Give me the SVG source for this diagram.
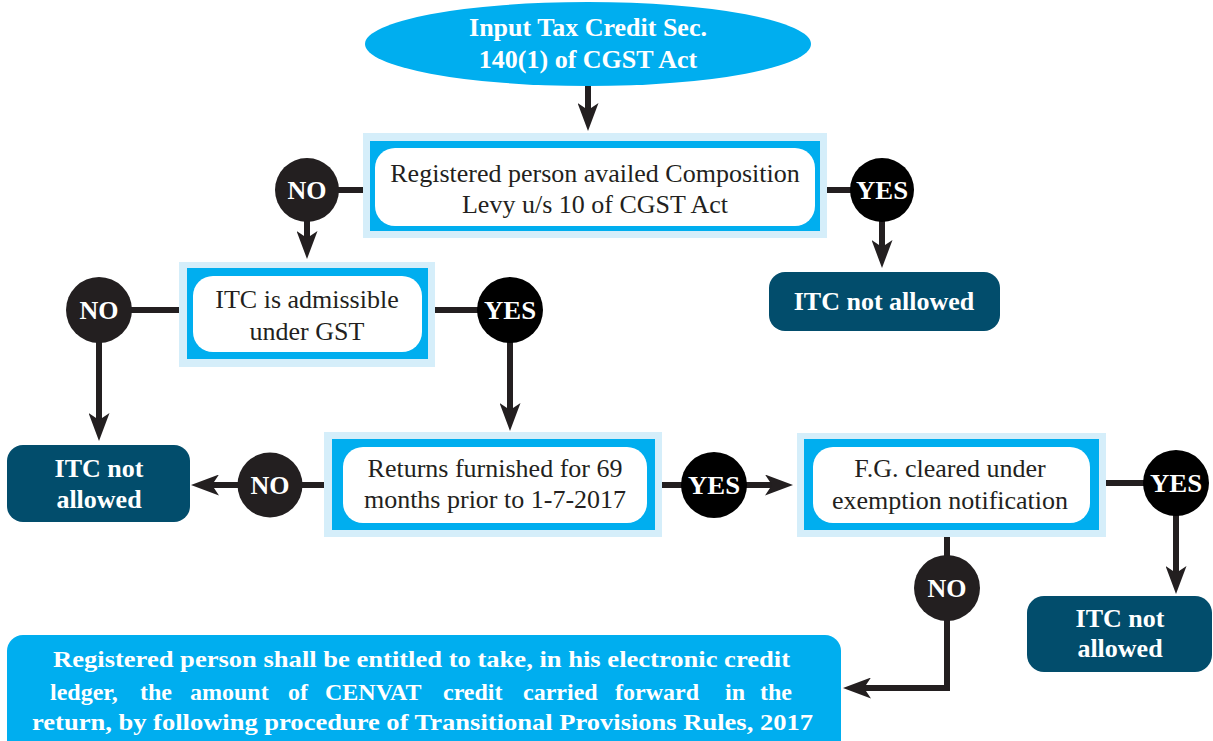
<svg xmlns="http://www.w3.org/2000/svg" width="1213" height="741" viewBox="0 0 1213 741">
<style>
.frame{fill:#d5eefa}
.blue{fill:#00aeef}
.white{fill:#ffffff}
.dark{fill:#024d6c}
.circ{fill:#231f20}
.circy{fill:#000000}
.t{font-family:"Liberation Serif","Times New Roman",serif;font-size:26px;fill:#231f20;text-anchor:middle}
.tb{font-family:"Liberation Serif","Times New Roman",serif;font-size:26px;font-weight:bold;fill:#ffffff;text-anchor:middle}
.tl{font-family:"Liberation Serif","Times New Roman",serif;font-size:24px;font-weight:bold;fill:#ffffff}
.ln{stroke:#231f20;stroke-width:6;fill:none}
.ar{stroke:#231f20;stroke-width:6;fill:none;marker-end:url(#ah)}
</style>
<defs>
<marker id="ah" viewBox="0 0 28 21" refX="7" refY="10.5" markerWidth="28" markerHeight="21" markerUnits="userSpaceOnUse" orient="auto">
<path d="M0,0 L28,10.5 L0,21 L7,10.5 Z" fill="#231f20"/>
</marker>
</defs>
<rect width="1213" height="741" fill="#ffffff"/>
<g id="connectors">
<line class="ar" x1="588" y1="86" x2="588" y2="110"/>
<line class="ln" x1="307" y1="190" x2="364" y2="190"/>
<line class="ln" x1="826" y1="190" x2="882" y2="190"/>
<line class="ar" x1="307" y1="220" x2="307" y2="238"/>
<line class="ar" x1="882" y1="220" x2="882" y2="247"/>
<line class="ln" x1="99" y1="310" x2="180" y2="310"/>
<line class="ln" x1="434" y1="310" x2="510" y2="310"/>
<line class="ar" x1="99" y1="340" x2="99" y2="420"/>
<line class="ar" x1="510" y1="340" x2="510" y2="410"/>
<line class="ln" x1="270" y1="485" x2="325" y2="485"/>
<line class="ar" x1="240" y1="485" x2="212" y2="485"/>
<line class="ln" x1="661" y1="485" x2="714" y2="485"/>
<line class="ar" x1="745" y1="485" x2="772" y2="485"/>
<line class="ln" x1="1105" y1="483" x2="1176" y2="483"/>
<line class="ar" x1="1176" y1="514" x2="1176" y2="573"/>
<line class="ln" x1="947" y1="536" x2="947" y2="588"/>
<polyline class="ar" points="947,588 947,688 864,688"/>
</g>
<g id="start">
<ellipse cx="588" cy="44" rx="223" ry="42" class="blue"/>
<text class="tb" x="588" y="36">Input Tax Credit Sec.</text>
<text class="tb" x="588" y="68">140(1) of CGST Act</text>
</g>
<g id="composition">
<rect x="363" y="133" width="464" height="105" class="frame"/>
<rect x="370" y="141" width="450" height="90" class="blue"/>
<rect x="375" y="148" width="440" height="78" rx="20" class="white"/>
<text class="t" x="595" y="182">Registered person availed Composition</text>
<text class="t" x="595" y="213">Levy u/s 10 of CGST Act</text>
</g>
<g id="no1"><circle cx="307" cy="190" r="32" class="circ"/><text class="tb" x="307" y="199">NO</text></g>
<g id="yes1"><circle cx="882" cy="190" r="32" class="circy"/><text class="tb" x="882" y="199" textLength="52" lengthAdjust="spacingAndGlyphs">YES</text></g>
<g id="notallowed1">
<rect x="769" y="272" width="231" height="59" rx="16" class="dark"/>
<text class="tb" x="884" y="310">ITC not allowed</text>
</g>
<g id="admissible">
<rect x="179" y="262" width="256" height="105" class="frame"/>
<rect x="187" y="268" width="241" height="91" class="blue"/>
<rect x="193" y="276" width="229" height="76" rx="20" class="white"/>
<text class="t" x="307" y="308">ITC is admissible</text>
<text class="t" x="307" y="340">under GST</text>
</g>
<g id="no2"><circle cx="99" cy="310" r="33" class="circ"/><text class="tb" x="99" y="319">NO</text></g>
<g id="yes2"><circle cx="510" cy="310" r="33" class="circy"/><text class="tb" x="510" y="319" textLength="52" lengthAdjust="spacingAndGlyphs">YES</text></g>
<g id="notallowed2">
<rect x="7" y="445" width="183" height="77" rx="16" class="dark"/>
<text class="tb" x="99" y="477">ITC not</text>
<text class="tb" x="99" y="508">allowed</text>
</g>
<g id="returns">
<rect x="324" y="432" width="338" height="105" class="frame"/>
<rect x="332" y="439" width="323" height="91" class="blue"/>
<rect x="343" y="447" width="304" height="76" rx="20" class="white"/>
<text class="t" x="495" y="477">Returns furnished for 69</text>
<text class="t" x="495" y="508">months prior to 1-7-2017</text>
</g>
<g id="no3"><circle cx="270" cy="485" r="32.5" class="circ"/><text class="tb" x="270" y="494">NO</text></g>
<g id="yes3"><circle cx="714" cy="485" r="33" class="circy"/><text class="tb" x="714" y="494" textLength="52" lengthAdjust="spacingAndGlyphs">YES</text></g>
<g id="fgcleared">
<rect x="797" y="433" width="309" height="104" class="frame"/>
<rect x="804" y="439" width="295" height="91" class="blue"/>
<rect x="813" y="447" width="277" height="76" rx="20" class="white"/>
<text class="t" x="950" y="477">F.G. cleared under</text>
<text class="t" x="950" y="509">exemption notification</text>
</g>
<g id="yes4"><circle cx="1176" cy="483" r="33" class="circy"/><text class="tb" x="1176" y="492" textLength="52" lengthAdjust="spacingAndGlyphs">YES</text></g>
<g id="no4"><circle cx="947" cy="588" r="33" class="circ"/><text class="tb" x="947" y="597">NO</text></g>
<g id="notallowed3">
<rect x="1027" y="596" width="185" height="76" rx="17" class="dark"/>
<text class="tb" x="1120" y="627">ITC not</text>
<text class="tb" x="1120" y="657">allowed</text>
</g>
<g id="entitled">
<rect x="7" y="635" width="834" height="125" rx="16" class="blue"/>
<text class="tl" x="53" y="667" textLength="737" lengthAdjust="spacingAndGlyphs">Registered person shall be entitled to take, in his electronic credit</text>
<text class="tl" y="700"><tspan x="50">ledger,</tspan><tspan x="140">the</tspan><tspan x="190">amount</tspan><tspan x="288">of</tspan><tspan x="325">CENVAT</tspan><tspan x="443">credit</tspan><tspan x="523">carried</tspan><tspan x="615">forward</tspan><tspan x="725">in</tspan><tspan x="760">the</tspan></text>
<text class="tl" x="32" y="730" textLength="781" lengthAdjust="spacingAndGlyphs">return, by following procedure of Transitional Provisions Rules, 2017</text>
</g>
</svg>
